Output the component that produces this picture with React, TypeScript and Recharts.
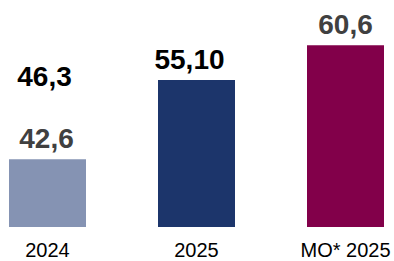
import { BarChart, Bar, XAxis, YAxis, Cell, LabelList } from 'recharts'

// valori
const categories = ['2024', '2025', 'MO* 2025']
const values = [42.6, 55.1, 60.6]
const valueLabels = ['42,6', '55,10', '60,6']
const extraLabels = ['46,3', '', '']

const barColors = ['#8593b3', '#1c356b', '#82004a']
const labelColors = ['#404040', '#000000', '#404040']
const labelShift = [-1, -7, 0]

const data = categories.map((name, i) => ({
  name,
  value: values[i],
  label: valueLabels[i],
  extra: extraLabels[i]
}))

const font = '"Liberation Sans", Arial, sans-serif'

function ValueLabel(props: any) {
  const { x, y, width, index } = props
  const cx = Number(x) + Number(width) / 2
  const top = Number(y)
  const extra = data[index]?.extra
  return (
    <g>
      <text
        x={cx + labelShift[index]}
        y={top - 11}
        textAnchor="middle"
        fontFamily={font}
        fontWeight="bold"
        fontSize={28}
        fill={labelColors[index]}
      >
        {data[index]?.label}
      </text>
      {extra ? (
        <text
          x={cx - 3}
          y={top - 73}
          textAnchor="middle"
          fontFamily={font}
          fontWeight="bold"
          fontSize={28}
          fill="#000000"
        >
          {extra}
        </text>
      ) : null}
    </g>
  )
}

export default function App() {
  return (
    <div style={{ position: 'absolute', left: 0, top: 0, background: '#fff' }}>
      <BarChart
        width={394}
        height={261}
        data={data}
        margin={{ top: 35, right: -26, left: -27, bottom: 4 }}
        barCategoryGap={36}
      >
        <XAxis
          dataKey="name"
          axisLine={false}
          tickLine={false}
          tickMargin={10}
          height={30}
          interval={0}
          tick={{ fontSize: 20, fill: '#000000', fontFamily: font }}
        />
        <YAxis hide domain={[31.9, 62.2]} allowDataOverflow />
        <Bar dataKey="value" isAnimationActive={false}>
          {data.map((d, i) => (
            <Cell key={d.name} fill={barColors[i]} />
          ))}
          <LabelList dataKey="label" content={<ValueLabel />} />
        </Bar>
      </BarChart>
    </div>
  )
}
